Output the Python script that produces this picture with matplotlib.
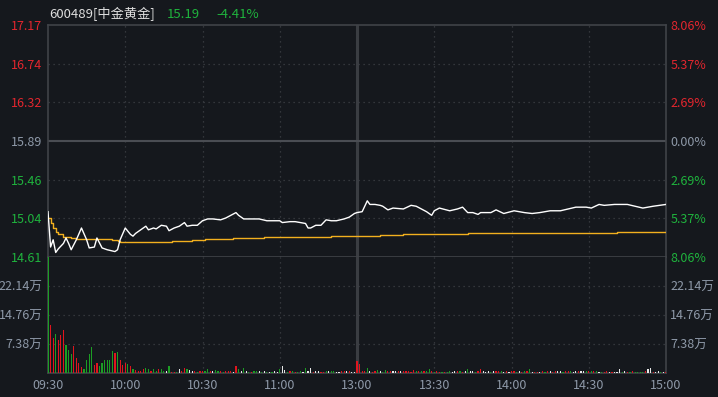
import numpy as np
import matplotlib.pyplot as plt

plt.rcParams['font.family'] = ['Noto Sans CJK SC', 'DejaVu Sans']

# ---- data ----
pre_close = 15.89
last_price = 15.19
change_pct = '-4.41%'

# minutes since 09:30 (trading minutes, 120 = 13:00)
price_t = [0, 1, 2, 3, 4, 5, 6, 7, 8, 9, 11, 13, 15, 16, 18, 19, 21, 23, 26, 27,
           28, 30, 32, 33, 34, 36, 38, 39, 41, 42, 44, 46, 47, 49, 51, 53, 54, 56, 58, 60,
           62, 64, 67, 69, 71, 73, 74, 75, 76, 80, 82, 85, 90, 91, 94, 96, 98, 100, 101, 102,
           104, 106, 108, 110, 112, 115, 117, 119, 120, 122, 124, 125, 127, 129, 130, 132, 134, 138, 141, 143,
           145, 147, 149, 150, 152, 156, 159, 161, 163, 165, 167, 168, 172, 174, 177, 181, 185, 188, 191, 195,
           199, 202, 205, 209, 211, 214, 216, 220, 225, 228, 231, 235, 240]
price_v = [15.11, 14.72, 14.80, 14.66, 14.70, 14.73, 14.76, 14.82, 14.76, 14.69, 14.80, 14.93, 14.80, 14.71, 14.72, 14.82, 14.71, 14.69, 14.67, 14.69,
           14.80, 14.93, 14.86, 14.84, 14.87, 14.91, 14.95, 14.91, 14.93, 14.92, 14.96, 14.95, 14.90, 14.93, 14.95, 14.99, 14.95, 14.96, 14.96, 15.01,
           15.03, 15.03, 15.02, 15.04, 15.07, 15.10, 15.07, 15.05, 15.03, 15.03, 15.03, 15.01, 15.01, 14.99, 15.00, 15.00, 14.99, 14.98, 14.93, 14.93,
           14.96, 14.96, 15.02, 15.01, 15.01, 15.03, 15.05, 15.09, 15.10, 15.11, 15.23, 15.19, 15.19, 15.18, 15.17, 15.13, 15.15, 15.14, 15.18, 15.17,
           15.14, 15.11, 15.07, 15.12, 15.15, 15.12, 15.14, 15.16, 15.10, 15.10, 15.08, 15.10, 15.10, 15.13, 15.09, 15.12, 15.10, 15.09, 15.10, 15.12,
           15.12, 15.14, 15.16, 15.16, 15.15, 15.19, 15.18, 15.19, 15.19, 15.17, 15.15, 15.17, 15.19]

avg_t = [0, 1, 2, 3, 4, 6, 9, 11, 25, 27, 28, 48, 56, 61, 72, 84, 110, 129, 138, 163, 196, 221, 240]
avg_v = [15.04, 14.98, 14.93, 14.89, 14.86, 14.83, 14.82, 14.81, 14.80, 14.79, 14.78, 14.79, 14.80, 14.81, 14.82, 14.83,
         14.84, 14.85, 14.86, 14.87, 14.88, 14.89, 14.89]

# volume per minute, in 万 shares; colour code r = up, g = down, w = flat
volume = [40, 12.2, 8.8, 9.9, 8.4, 9.7, 10.9, 7.1, 5.9, 4.8,
          6.9, 3.7, 2.5, 1.6, 1.0, 3.3, 4.8, 6.5, 2.0, 2.5,
          1.8, 2.6, 3.3, 3.3, 3.3, 5.6, 5.2, 5.4, 3.3, 2.0,
          2.5, 2.2, 1.8, 1.0, 0.8, 0.6, 0.6, 0.9, 1.3, 1.0,
          0.6, 1.1, 0.6, 0.9, 1.1, 0.6, 0.6, 1.8, 0.3, 0.3,
          0.3, 1.1, 0.6, 1.3, 1.1, 0.8, 0.6, 0.4, 0.3, 0.6,
          0.6, 0.6, 1.1, 0.6, 0.6, 0.8, 0.6, 0.6, 0.3, 0.6,
          0.6, 0.6, 0.3, 1.8, 1.1, 0.4, 1.3, 0.6, 0.3, 0.3,
          0.4, 0.4, 0.6, 0.3, 0.4, 0.3, 0.3, 0.3, 0.6, 0.3,
          1.1, 1.8, 0.8, 0.3, 0.4, 0.6, 0.3, 0.3, 0.6, 0.3,
          1.3, 0.6, 1.3, 0.3, 0.6, 0.6, 0.3, 0.3, 0.6, 0.6,
          0.6, 0.6, 0.3, 0.3, 0.6, 0.6, 0.6, 0.4, 0.3, 0.3,
          3.0, 2.3, 0.4, 0.4, 1.3, 0.6, 0.3, 0.6, 0.8, 0.6,
          0.3, 0.8, 0.6, 0.6, 0.6, 0.6, 0.4, 0.6, 0.6, 0.6,
          0.6, 0.3, 0.8, 0.4, 0.6, 0.6, 0.4, 0.6, 1.0, 0.4,
          0.3, 0.4, 0.3, 0.2, 0.3, 0.3, 0.6, 0.3, 0.6, 0.4,
          0.4, 0.3, 0.6, 1.0, 0.6, 0.6, 0.25, 0.6, 1.0, 0.6,
          0.25, 0.6, 0.3, 0.6, 0.6, 0.4, 0.4, 0.25, 0.4, 0.3,
          0.6, 0.6, 0.3, 0.4, 0.25, 0.6, 0.4, 1.0, 0.25, 0.25,
          0.25, 0.25, 0.4, 0.25, 0.4, 0.4, 0.25, 0.4, 0.4, 0.6,
          0.3, 0.6, 0.6, 0.4, 0.3, 0.6, 0.6, 0.6, 0.6, 0.4,
          0.4, 0.4, 0.4, 0.4, 0.3, 0.25, 0.3, 0.4, 0.25, 0.25,
          0.25, 0.3, 0.9, 0.25, 0.6, 0.3, 0.25, 0.6, 0.25, 0.25,
          0.25, 0.25, 0.6, 0.9, 1.3, 0.25, 0.3, 0.6, 0.2, 0.3,
          0.25]
vol_color = ''.join([
    'grrgrrrggg', 'rrrrggggrr', 'ggggggrgrr', 'rgrgrrrrgg', 'rggrggwgrr',
    'gwrrgwwrgr', 'rggrwggrgr', 'rrwrgwgwgr', 'ggwgwgwgww', 'gwwgrgrggw',
    'gwwrwwrrgw', 'ggwwrrwrww', 'rrrrgwrrgw', 'ggrrwwrwrr', 'rrrgrgrggr',
    'grrgrggwwr', 'grwgwwgrrw', 'wwgwrrgwrw', 'rrgwrgrgwr', 'rwrgrwrrww',
    'grrgwwrwwg', 'rgrgwgrrwr', 'wwwgwrgrgg', 'ggrwwrwwgw', 'r'])

time_ticks = [0, 30, 60, 90, 120, 150, 180, 210, 240]
time_labels = ['09:30', '10:00', '10:30', '11:00', '13:00', '13:30', '14:00', '14:30', '15:00']
price_ticks = [17.17, 16.74, 16.32, 15.89, 15.46, 15.04, 14.61]
pct_labels = ['8.06%', '5.37%', '2.69%', '0.00%', '2.69%', '5.37%', '8.06%']
vol_ticks = [7.38, 14.76, 22.14]
vol_labels = ['7.38万', '14.76万', '22.14万']

# ---- style ----
BG = '#15181d'
FRAME = '#404348'
GRID = '#3d4046'
RED = '#e3262e'
GREEN = '#1fb33d'
GRAY = '#8e99a8'
color_map = {'r': '#e0151e', 'g': '#1c9e24', 'w': '#e6e6e6'}

fig = plt.figure(figsize=(7.18, 3.97), dpi=100, facecolor=BG)
L, W = 48 / 718, 618 / 718
ax = fig.add_axes([L, 1 - 257 / 397, W, 232 / 397])
axv = fig.add_axes([L, 1 - 373 / 397, W, 116 / 397])

for a in (ax, axv):
    a.set_facecolor(BG)
    a.set_xlim(0, 240)
    for s in a.spines.values():
        s.set_color(FRAME)
        s.set_linewidth(1.2)
    for t in time_ticks:
        if t == 120:
            a.axvline(t, color='#3a3d42', lw=2.2, zorder=1)
        elif 0 < t < 240:
            a.axvline(t, color=GRID, lw=0.9, ls=(0, (1, 3)), zorder=1)

# price panel
ax.set_ylim(price_ticks[-1], price_ticks[0])
for p in price_ticks[1:-1]:
    if p == pre_close:
        ax.axhline(p, color='#4a4d53', lw=1.5, zorder=1)
    else:
        ax.axhline(p, color=GRID, lw=0.9, ls=(0, (1, 3)), zorder=1)
ax.plot(avg_t, avg_v, color='#f2b01e', lw=1.0, drawstyle='steps-post', zorder=3)
ax.plot(price_t, price_v, color='white', lw=1.0, zorder=4)

def lab_color(v):
    if v > pre_close + 1e-6:
        return RED
    if v < pre_close - 1e-6:
        return GREEN
    return GRAY

ax.set_xticks([])
ax.set_yticks(price_ticks)
ax.set_yticklabels([f'{p:.2f}' for p in price_ticks])
ax.tick_params(axis='y', length=0, pad=4, labelsize=9)
for lbl, p in zip(ax.get_yticklabels(), price_ticks):
    lbl.set_color(lab_color(p))

axr = ax.twinx()
axr.set_ylim(ax.get_ylim())
axr.set_yticks(price_ticks)
axr.set_yticklabels(pct_labels)
axr.tick_params(axis='y', length=0, pad=3, labelsize=9)
for lbl, p in zip(axr.get_yticklabels(), price_ticks):
    lbl.set_color(lab_color(p))
for s in axr.spines.values():
    s.set_visible(False)

# volume panel
minutes = np.arange(len(volume))
axv.set_ylim(0, 29.52)
for v in vol_ticks:
    axv.axhline(v, color=GRID, lw=0.9, ls=(0, (1, 3)), zorder=1)
axv.bar(minutes, volume, width=0.45, color=[color_map[c] for c in vol_color],
        linewidth=0, antialiased=False, zorder=3)
axv.spines['top'].set_visible(False)
axv.set_xticks(time_ticks)
axv.set_xticklabels(time_labels)
axv.set_yticks(vol_ticks)
axv.set_yticklabels(vol_labels)
axv.tick_params(axis='x', length=0, pad=4, labelsize=9, colors=GRAY)
axv.tick_params(axis='y', length=0, pad=4, labelsize=9, colors=GRAY)

axvr = axv.twinx()
axvr.set_ylim(axv.get_ylim())
axvr.set_yticks(vol_ticks)
axvr.set_yticklabels(vol_labels)
axvr.tick_params(axis='y', length=0, pad=3, labelsize=9, colors=GRAY)
for s in axvr.spines.values():
    s.set_visible(False)

# title line
fig.text(49 / 718, 1 - 14 / 397, '600489[中金黄金]', color='#dedede', fontsize=9.5, va='center')
fig.text(167 / 718, 1 - 14 / 397, f'{last_price:.2f}', color=GREEN, fontsize=9.5, va='center')
fig.text(216 / 718, 1 - 14 / 397, change_pct, color=GREEN, fontsize=9.5, va='center')

fig.savefig('out.png', dpi=100, facecolor=BG)
